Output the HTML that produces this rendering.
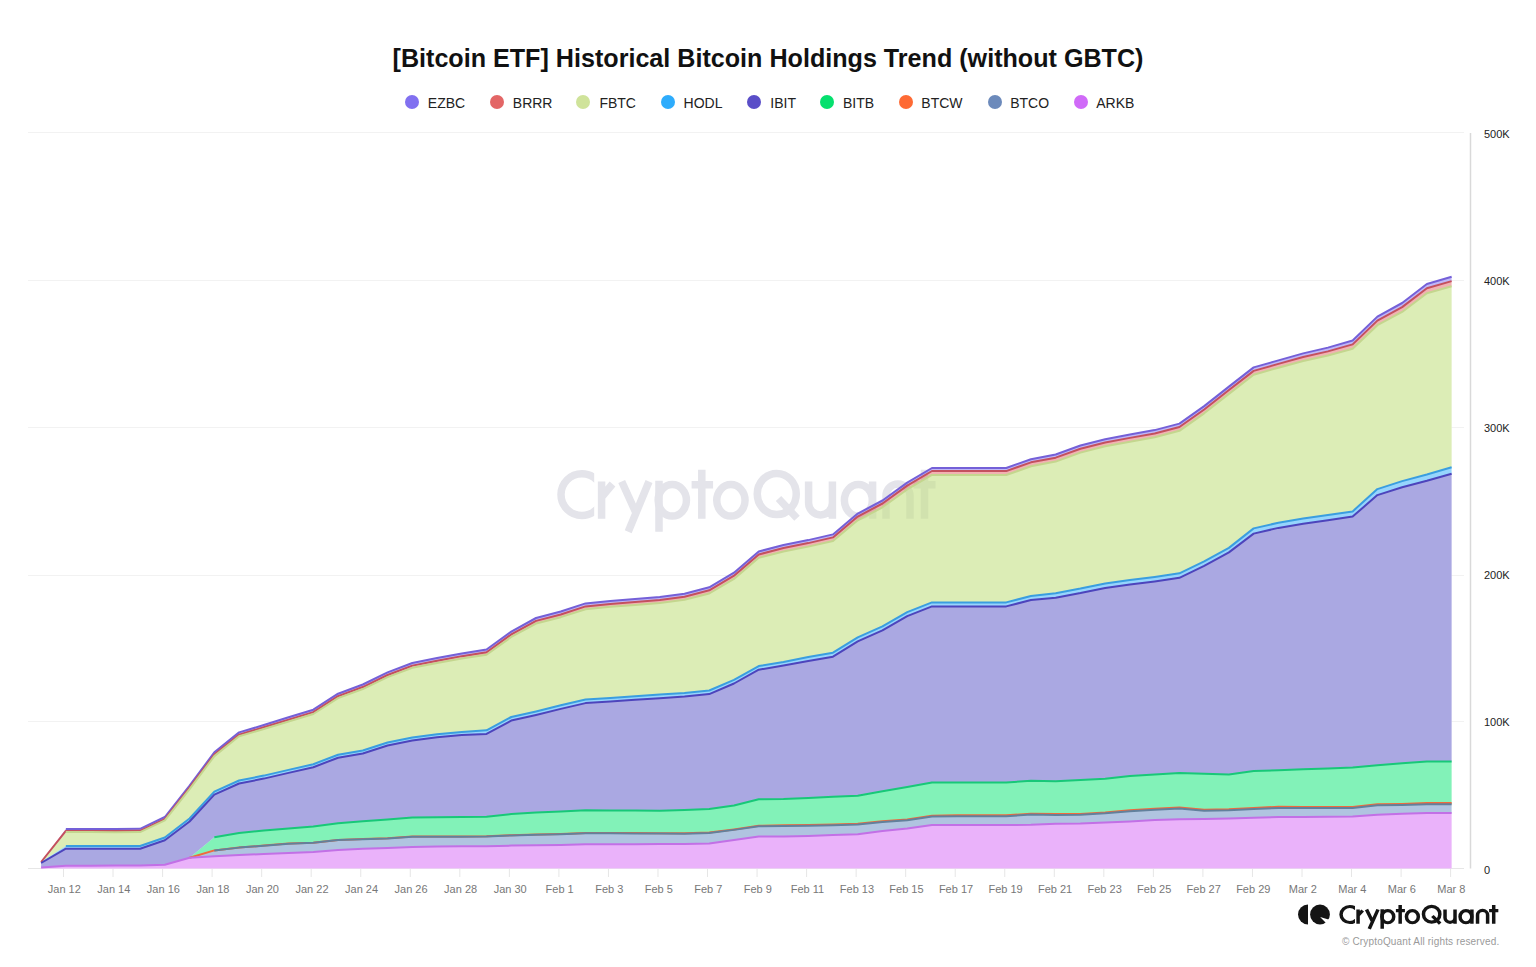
<!DOCTYPE html>
<html><head><meta charset="utf-8">
<style>
html,body{margin:0;padding:0;background:#fff;}
body{width:1536px;height:967px;position:relative;overflow:hidden;font-family:"Liberation Sans",sans-serif;}
.title{position:absolute;left:0;width:1536px;top:40.5px;text-align:center;font-weight:bold;font-size:25.13px;color:#111;line-height:34px;}
.ld{position:absolute;top:95px;width:14px;height:14px;border-radius:50%;}
.lt{position:absolute;top:95px;font-size:14px;line-height:16px;color:#222;}
svg{position:absolute;left:0;top:0;}
.yl{position:absolute;left:1484px;font-size:11px;line-height:14px;color:#222;}
.xl{position:absolute;top:882px;width:60px;text-align:center;font-size:11px;line-height:14px;color:#777;}
.copy{position:absolute;left:1342px;top:934.8px;font-size:10px;line-height:13px;color:#9a9a9a;letter-spacing:0.16px;}
</style></head><body>
<div class="title">[Bitcoin ETF] Historical Bitcoin Holdings Trend (without GBTC)</div>
<div class="ld" style="left:405px;background:#8170f0"></div><div class="lt" style="left:427.8px">EZBC</div>
<div class="ld" style="left:490px;background:#e36666"></div><div class="lt" style="left:512.8px">BRRR</div>
<div class="ld" style="left:576px;background:#cfe39a"></div><div class="lt" style="left:599.4px">FBTC</div>
<div class="ld" style="left:661px;background:#2eacfc"></div><div class="lt" style="left:683.6px">HODL</div>
<div class="ld" style="left:747px;background:#5a4ec8"></div><div class="lt" style="left:770.3px">IBIT</div>
<div class="ld" style="left:820.4px;background:#05e06e"></div><div class="lt" style="left:843px">BITB</div>
<div class="ld" style="left:898.7px;background:#fe6a34"></div><div class="lt" style="left:921.3px">BTCW</div>
<div class="ld" style="left:987.5px;background:#6c8abb"></div><div class="lt" style="left:1010.2px">BTCO</div>
<div class="ld" style="left:1073.8px;background:#d06af8"></div><div class="lt" style="left:1096.2px">ARKB</div>
<svg width="1536" height="967" viewBox="0 0 1536 967">
<line x1="28" x2="1464" y1="868.5" y2="868.5" stroke="#e6e6e6" stroke-width="1"/>
<line x1="28" x2="1464" y1="721.5" y2="721.5" stroke="#f2f2f2" stroke-width="1"/>
<line x1="28" x2="1464" y1="575.5" y2="575.5" stroke="#f2f2f2" stroke-width="1"/>
<line x1="28" x2="1464" y1="427.5" y2="427.5" stroke="#f2f2f2" stroke-width="1"/>
<line x1="28" x2="1464" y1="280.5" y2="280.5" stroke="#f2f2f2" stroke-width="1"/>
<line x1="28" x2="1464" y1="132.5" y2="132.5" stroke="#f2f2f2" stroke-width="1"/>
<line x1="1470.5" x2="1470.5" y1="133" y2="868.5" stroke="#d9d9d9" stroke-width="1.5"/>
<line x1="63.5" x2="63.5" y1="869" y2="877" stroke="#e6e6e6" stroke-width="1"/>
<line x1="113.04" x2="113.04" y1="869" y2="877" stroke="#e6e6e6" stroke-width="1"/>
<line x1="162.58" x2="162.58" y1="869" y2="877" stroke="#e6e6e6" stroke-width="1"/>
<line x1="212.12" x2="212.12" y1="869" y2="877" stroke="#e6e6e6" stroke-width="1"/>
<line x1="261.66" x2="261.66" y1="869" y2="877" stroke="#e6e6e6" stroke-width="1"/>
<line x1="311.2" x2="311.2" y1="869" y2="877" stroke="#e6e6e6" stroke-width="1"/>
<line x1="360.74" x2="360.74" y1="869" y2="877" stroke="#e6e6e6" stroke-width="1"/>
<line x1="410.28" x2="410.28" y1="869" y2="877" stroke="#e6e6e6" stroke-width="1"/>
<line x1="459.82" x2="459.82" y1="869" y2="877" stroke="#e6e6e6" stroke-width="1"/>
<line x1="509.36" x2="509.36" y1="869" y2="877" stroke="#e6e6e6" stroke-width="1"/>
<line x1="558.9" x2="558.9" y1="869" y2="877" stroke="#e6e6e6" stroke-width="1"/>
<line x1="608.44" x2="608.44" y1="869" y2="877" stroke="#e6e6e6" stroke-width="1"/>
<line x1="657.98" x2="657.98" y1="869" y2="877" stroke="#e6e6e6" stroke-width="1"/>
<line x1="707.52" x2="707.52" y1="869" y2="877" stroke="#e6e6e6" stroke-width="1"/>
<line x1="757.06" x2="757.06" y1="869" y2="877" stroke="#e6e6e6" stroke-width="1"/>
<line x1="806.6" x2="806.6" y1="869" y2="877" stroke="#e6e6e6" stroke-width="1"/>
<line x1="856.14" x2="856.14" y1="869" y2="877" stroke="#e6e6e6" stroke-width="1"/>
<line x1="905.68" x2="905.68" y1="869" y2="877" stroke="#e6e6e6" stroke-width="1"/>
<line x1="955.22" x2="955.22" y1="869" y2="877" stroke="#e6e6e6" stroke-width="1"/>
<line x1="1004.76" x2="1004.76" y1="869" y2="877" stroke="#e6e6e6" stroke-width="1"/>
<line x1="1054.3" x2="1054.3" y1="869" y2="877" stroke="#e6e6e6" stroke-width="1"/>
<line x1="1103.84" x2="1103.84" y1="869" y2="877" stroke="#e6e6e6" stroke-width="1"/>
<line x1="1153.38" x2="1153.38" y1="869" y2="877" stroke="#e6e6e6" stroke-width="1"/>
<line x1="1202.92" x2="1202.92" y1="869" y2="877" stroke="#e6e6e6" stroke-width="1"/>
<line x1="1252.46" x2="1252.46" y1="869" y2="877" stroke="#e6e6e6" stroke-width="1"/>
<line x1="1302" x2="1302" y1="869" y2="877" stroke="#e6e6e6" stroke-width="1"/>
<line x1="1351.54" x2="1351.54" y1="869" y2="877" stroke="#e6e6e6" stroke-width="1"/>
<line x1="1401.08" x2="1401.08" y1="869" y2="877" stroke="#e6e6e6" stroke-width="1"/>
<line x1="1450.62" x2="1450.62" y1="869" y2="877" stroke="#e6e6e6" stroke-width="1"/>
<polygon fill="#fff" points="41.1,861 65.85,828 90.59,828 115.34,828 140.08,827.8 164.83,816 189.58,784.5 214.32,751.4 239.07,731.4 263.81,724 288.56,716.3 313.31,708.7 338.05,692.7 362.8,683.5 387.54,671.4 412.29,662 437.04,657 461.78,652.4 486.53,648.5 511.27,630.6 536.02,617 560.77,610.5 585.51,602.4 610.26,599.9 635,598 659.75,596 684.5,592.7 709.24,586.3 733.99,571.7 758.73,550.5 783.48,544 808.23,539.1 832.97,533.4 857.72,512.6 882.46,499.5 907.21,481.6 931.96,467 956.7,467 981.45,467 1006.19,467 1030.94,458.2 1055.69,453.5 1080.43,444.5 1105.18,438.2 1129.92,433.6 1154.67,429.1 1179.42,422.6 1204.16,405.1 1228.91,385.6 1253.65,366.4 1278.4,359.4 1303.15,352.4 1327.89,346.6 1352.64,339.5 1377.38,315.6 1402.13,302 1426.88,283 1451.62,275.7 1451.62,868.5 41.1,868.5"/>
<g stroke="#e4e4ea"><g id="cqword" fill="none" stroke-width="7.5">
<clipPath id="cclip"><rect x="540" y="440" width="54.2" height="100"/></clipPath>
<circle cx="581.9" cy="494.6" r="20.9" clip-path="url(#cclip)"/>
<path d="M601.6,481.5V518.8M602.5,496L612.5,484M621.7,481.5L636,513M649,481.5L628.2,531.8M659,480.8V531.8"/>
<ellipse cx="672.3" cy="500.3" rx="14.15" ry="15.8"/>
<path d="M701.8,469.8V518.8M691.6,484.7H713.1"/>
<ellipse cx="730.9" cy="500.3" rx="14.15" ry="15.8"/>
<ellipse cx="776.75" cy="494.0" rx="19.5" ry="20.6"/>
<path d="M778.5,498.5L797,518.3"/>
<path d="M808.6,481.5V503A11.9,11.9 0 0 0 832.4,503M832.4,481.5V518.8"/>
<ellipse cx="858.4" cy="500.3" rx="14" ry="15.8"/>
<path d="M872.6,481.5V518.8M886,518.8V496A12,12 0 0 1 910,496V518.8"/>
<path d="M924.5,469.8V518.8M913.5,484.7H935.5"/>
</g></g>
<polygon fill="rgba(129,112,240,0.5)" points="41.1,862 65.85,829 90.59,829 115.34,829 140.08,828.8 164.83,817 189.58,785.5 214.32,752.4 239.07,732.4 263.81,725 288.56,717.3 313.31,709.7 338.05,693.7 362.8,684.5 387.54,672.4 412.29,663 437.04,658 461.78,653.4 486.53,649.5 511.27,631.6 536.02,618 560.77,611.5 585.51,603.4 610.26,600.9 635,599 659.75,597 684.5,593.7 709.24,587.3 733.99,572.7 758.73,551.5 783.48,545 808.23,540.1 832.97,534.4 857.72,513.6 882.46,500.5 907.21,482.6 931.96,468 956.7,468 981.45,468 1006.19,468 1030.94,459.2 1055.69,454.5 1080.43,445.5 1105.18,439.2 1129.92,434.6 1154.67,430.1 1179.42,423.6 1204.16,406.1 1228.91,386.6 1253.65,367.4 1278.4,360.4 1303.15,353.4 1327.89,347.6 1352.64,340.5 1377.38,316.6 1402.13,303 1426.88,284 1451.62,276.7 1451.62,281.1 1426.88,288.27 1402.13,307.14 1377.38,320.61 1352.64,344.39 1327.89,351.36 1303.15,357.03 1278.4,363.9 1253.65,370.86 1228.91,390.02 1204.16,409.48 1179.42,426.95 1154.67,433.41 1129.92,437.87 1105.18,442.43 1080.43,448.69 1055.69,457.65 1030.94,462.32 1006.19,471.08 981.45,471.04 956.7,471 931.96,471 907.21,485.6 882.46,503.5 857.72,516.6 832.97,537.4 808.23,543.1 783.48,548 758.73,554.5 733.99,575.7 709.24,590.3 684.5,596.7 659.75,600 635,602 610.26,603.9 585.51,606.4 560.77,614.45 536.02,620.9 511.27,634.44 486.53,652.29 461.78,656.14 437.04,660.69 412.29,665.63 387.54,674.98 362.8,687.03 338.05,696.18 313.31,712.12 288.56,719.67 263.81,727.32 239.07,734.67 214.32,754.61 189.58,787.66 164.83,819.11 140.08,830.86 115.34,831 90.59,830.95 65.85,830.9 41.1,862"/>
<polygon fill="rgba(227,102,102,0.5)" points="41.1,862 65.85,830.9 90.59,830.95 115.34,831 140.08,830.86 164.83,819.11 189.58,787.66 214.32,754.61 239.07,734.67 263.81,727.32 288.56,719.67 313.31,712.12 338.05,696.18 362.8,687.03 387.54,674.98 412.29,665.63 437.04,660.69 461.78,656.14 486.53,652.29 511.27,634.44 536.02,620.9 560.77,614.45 585.51,606.4 610.26,603.9 635,602 659.75,600 684.5,596.7 709.24,590.3 733.99,575.7 758.73,554.5 783.48,548 808.23,543.1 832.97,537.4 857.72,516.6 882.46,503.5 907.21,485.6 931.96,471 956.7,471 981.45,471.04 1006.19,471.08 1030.94,462.32 1055.69,457.65 1080.43,448.69 1105.18,442.43 1129.92,437.87 1154.67,433.41 1179.42,426.95 1204.16,409.48 1228.91,390.02 1253.65,370.86 1278.4,363.9 1303.15,357.03 1327.89,351.36 1352.64,344.39 1377.38,320.61 1402.13,307.14 1426.88,288.27 1451.62,281.1 1451.62,286.3 1426.88,293.27 1402.13,311.94 1377.38,325.21 1352.64,348.79 1327.89,355.56 1303.15,361.03 1278.4,367.7 1253.65,374.68 1228.91,393.85 1204.16,413.33 1179.42,430.81 1154.67,437.28 1129.92,441.76 1105.18,446.34 1080.43,452.62 1055.69,461.59 1030.94,466.27 1006.19,475.05 981.45,475.02 956.7,475 931.96,474.92 907.21,489.44 882.46,507.26 857.72,520.28 832.97,541 808.23,546.62 783.48,551.44 758.73,557.86 733.99,578.98 709.24,593.5 684.5,599.82 659.75,603.04 635,604.96 610.26,606.78 585.51,609.2 560.77,617.16 536.02,623.52 511.27,636.99 486.53,654.75 461.78,658.51 437.04,662.97 412.29,667.83 387.54,677.1 362.8,689.06 338.05,698.12 313.31,713.98 288.56,721.44 263.81,729 239.07,736.27 214.32,756.13 189.58,789.09 164.83,820.45 140.08,832.11 115.34,832.18 90.59,832.04 65.85,831.9 41.1,862"/>
<polygon fill="rgba(197,225,133,0.6)" points="41.1,862 65.85,831.9 90.59,832.04 115.34,832.18 140.08,832.11 164.83,820.45 189.58,789.09 214.32,756.13 239.07,736.27 263.81,729 288.56,721.44 313.31,713.98 338.05,698.12 362.8,689.06 387.54,677.1 412.29,667.83 437.04,662.97 461.78,658.51 486.53,654.75 511.27,636.99 536.02,623.52 560.77,617.16 585.51,609.2 610.26,606.78 635,604.96 659.75,603.04 684.5,599.82 709.24,593.5 733.99,578.98 758.73,557.86 783.48,551.44 808.23,546.62 832.97,541 857.72,520.28 882.46,507.26 907.21,489.44 931.96,474.92 956.7,475 981.45,475.02 1006.19,475.05 1030.94,466.27 1055.69,461.59 1080.43,452.62 1105.18,446.34 1129.92,441.76 1154.67,437.28 1179.42,430.81 1204.16,413.33 1228.91,393.85 1253.65,374.68 1278.4,367.7 1303.15,361.03 1327.89,355.56 1352.64,348.79 1377.38,325.21 1402.13,311.94 1426.88,293.27 1451.62,286.3 1451.62,467.2 1426.88,474.47 1402.13,481.13 1377.38,489.1 1352.64,511.4 1327.89,515 1303.15,518.6 1278.4,522.7 1253.65,528.4 1228.91,547.9 1204.16,561.4 1179.42,573.3 1154.67,576.9 1129.92,580.1 1105.18,583.4 1080.43,588.6 1055.69,593.2 1030.94,596 1006.19,602.4 981.45,602.4 956.7,602.4 931.96,602.4 907.21,612.1 882.46,626.3 857.72,637.4 832.97,652.7 808.23,657 783.48,662 758.73,666.1 733.99,679.9 709.24,690.5 684.5,692.9 659.75,694.6 635,696.2 610.26,698 585.51,699.5 560.77,705.3 536.02,711.4 511.27,717 486.53,730.3 461.78,732 437.04,734.3 412.29,737.6 387.54,742.5 362.8,750.5 338.05,754.7 313.31,764.2 288.56,769.9 263.81,775.6 239.07,780.5 214.32,791.6 189.58,818.5 164.83,837.5 140.08,846 115.34,846 90.59,846 65.85,846 41.1,862"/>
<polygon fill="rgba(46,172,252,0.5)" points="41.1,862 65.85,846 90.59,846 115.34,846 140.08,846 164.83,837.5 189.58,818.5 214.32,791.6 239.07,780.5 263.81,775.6 288.56,769.9 313.31,764.2 338.05,754.7 362.8,750.5 387.54,742.5 412.29,737.6 437.04,734.3 461.78,732 486.53,730.3 511.27,717 536.02,711.4 560.77,705.3 585.51,699.5 610.26,698 635,696.2 659.75,694.6 684.5,692.9 709.24,690.5 733.99,679.9 758.73,666.1 783.48,662 808.23,657 832.97,652.7 857.72,637.4 882.46,626.3 907.21,612.1 931.96,602.4 956.7,602.4 981.45,602.4 1006.19,602.4 1030.94,596 1055.69,593.2 1080.43,588.6 1105.18,583.4 1129.92,580.1 1154.67,576.9 1179.42,573.3 1204.16,561.4 1228.91,547.9 1253.65,528.4 1278.4,522.7 1303.15,518.6 1327.89,515 1352.64,511.4 1377.38,489.1 1402.13,481.13 1426.88,474.47 1451.62,467.2 1451.62,473.7 1426.88,480.8 1402.13,487.3 1377.38,495.1 1352.64,516.6 1327.89,520.2 1303.15,523.8 1278.4,527.9 1253.65,533.6 1228.91,552.4 1204.16,565.9 1179.42,577.8 1154.67,581.4 1129.92,584.6 1105.18,587.9 1080.43,593.1 1055.69,597.7 1030.94,600 1006.19,606.4 981.45,606.4 956.7,606.4 931.96,606.4 907.21,616.1 882.46,630.3 857.72,641.4 832.97,656.7 808.23,661 783.48,665.6 758.73,669.7 733.99,683.5 709.24,694.1 684.5,696.5 659.75,698.2 635,699.8 610.26,701.6 585.51,703.1 560.77,708.9 536.02,715 511.27,720.6 486.53,733.9 461.78,735 437.04,737.3 412.29,740.6 387.54,745.5 362.8,753.5 338.05,757.7 313.31,767.2 288.56,772.9 263.81,778.6 239.07,783.5 214.32,794.6 189.58,821.5 164.83,840.2 140.08,848.7 115.34,848.7 90.59,848.7 65.85,848.7 41.1,863"/>
<polygon fill="rgba(113,110,207,0.6)" points="41.1,863 65.85,848.7 90.59,848.7 115.34,848.7 140.08,848.7 164.83,840.2 189.58,821.5 214.32,794.6 239.07,783.5 263.81,778.6 288.56,772.9 313.31,767.2 338.05,757.7 362.8,753.5 387.54,745.5 412.29,740.6 437.04,737.3 461.78,735 486.53,733.9 511.27,720.6 536.02,715 560.77,708.9 585.51,703.1 610.26,701.6 635,699.8 659.75,698.2 684.5,696.5 709.24,694.1 733.99,683.5 758.73,669.7 783.48,665.6 808.23,661 832.97,656.7 857.72,641.4 882.46,630.3 907.21,616.1 931.96,606.4 956.7,606.4 981.45,606.4 1006.19,606.4 1030.94,600 1055.69,597.7 1080.43,593.1 1105.18,587.9 1129.92,584.6 1154.67,581.4 1179.42,577.8 1204.16,565.9 1228.91,552.4 1253.65,533.6 1278.4,527.9 1303.15,523.8 1327.89,520.2 1352.64,516.6 1377.38,495.1 1402.13,487.3 1426.88,480.8 1451.62,473.7 1451.62,761.6 1426.88,761.6 1402.13,763.2 1377.38,765.3 1352.64,767.6 1327.89,768.4 1303.15,769.2 1278.4,770.2 1253.65,770.9 1228.91,774.5 1204.16,773.7 1179.42,772.9 1154.67,774.5 1129.92,776.1 1105.18,778.7 1080.43,779.9 1055.69,781.2 1030.94,780.8 1006.19,782.5 981.45,782.5 956.7,782.5 931.96,782.5 907.21,786.9 882.46,791.2 857.72,795.7 832.97,796.8 808.23,798 783.48,799 758.73,799.3 733.99,805.5 709.24,809 684.5,809.9 659.75,810.7 635,810.5 610.26,810.5 585.51,810.3 560.77,811.5 536.02,812.5 511.27,814.1 486.53,816.8 461.78,817 437.04,817.2 412.29,817.6 387.54,819.5 362.8,821.2 338.05,823.3 313.31,826.5 288.56,828.5 263.81,830.6 239.07,833 214.32,837.3 189.58,857.8 164.83,864.7 140.08,865.5 115.34,865.6 90.59,865.7 65.85,865.8 41.1,867.4"/>
<polygon fill="rgba(47,233,137,0.6)" points="41.1,867.4 65.85,865.8 90.59,865.7 115.34,865.6 140.08,865.5 164.83,864.7 189.58,857.8 214.32,837.3 239.07,833 263.81,830.6 288.56,828.5 313.31,826.5 338.05,823.3 362.8,821.2 387.54,819.5 412.29,817.6 437.04,817.2 461.78,817 486.53,816.8 511.27,814.1 536.02,812.5 560.77,811.5 585.51,810.3 610.26,810.5 635,810.5 659.75,810.7 684.5,809.9 709.24,809 733.99,805.5 758.73,799.3 783.48,799 808.23,798 832.97,796.8 857.72,795.7 882.46,791.2 907.21,786.9 931.96,782.5 956.7,782.5 981.45,782.5 1006.19,782.5 1030.94,780.8 1055.69,781.2 1080.43,779.9 1105.18,778.7 1129.92,776.1 1154.67,774.5 1179.42,772.9 1204.16,773.7 1228.91,774.5 1253.65,770.9 1278.4,770.2 1303.15,769.2 1327.89,768.4 1352.64,767.6 1377.38,765.3 1402.13,763.2 1426.88,761.6 1451.62,761.6 1451.62,803.1 1426.88,803.1 1402.13,803.9 1377.38,804.2 1352.64,806.9 1327.89,806.9 1303.15,806.9 1278.4,806.8 1253.65,808 1228.91,809.2 1204.16,809.7 1179.42,807.5 1154.67,808.7 1129.92,810.3 1105.18,812.4 1080.43,813.9 1055.69,814 1030.94,813.7 1006.19,815.3 981.45,815.3 956.7,815.3 931.96,815.7 907.21,819.4 882.46,821.2 857.72,823.7 832.97,824.5 808.23,825 783.48,825.3 758.73,825.8 733.99,829.4 709.24,832.6 684.5,833.3 659.75,833.3 635,833.1 610.26,833.1 585.51,833.1 560.77,833.9 536.02,834.6 511.27,835.2 486.53,836.2 461.78,836.5 437.04,836.5 412.29,836.6 387.54,838.3 362.8,839.1 338.05,839.9 313.31,842.7 288.56,843.6 263.81,845.6 239.07,847.6 214.32,850.4 189.58,857.8 164.83,864.7 140.08,865.5 115.34,865.6 90.59,865.7 65.85,865.8 41.1,867.4"/>
<polygon fill="rgba(254,106,52,0.5)" points="41.1,867.4 65.85,865.8 90.59,865.7 115.34,865.6 140.08,865.5 164.83,864.7 189.58,857.8 214.32,850.4 239.07,847.6 263.81,845.6 288.56,843.6 313.31,842.7 338.05,839.9 362.8,839.1 387.54,838.3 412.29,836.6 437.04,836.5 461.78,836.5 486.53,836.2 511.27,835.2 536.02,834.6 560.77,833.9 585.51,833.1 610.26,833.1 635,833.1 659.75,833.3 684.5,833.3 709.24,832.6 733.99,829.4 758.73,825.8 783.48,825.3 808.23,825 832.97,824.5 857.72,823.7 882.46,821.2 907.21,819.4 931.96,815.7 956.7,815.3 981.45,815.3 1006.19,815.3 1030.94,813.7 1055.69,814 1080.43,813.9 1105.18,812.4 1129.92,810.3 1154.67,808.7 1179.42,807.5 1204.16,809.7 1228.91,809.2 1253.65,808 1278.4,806.8 1303.15,806.9 1327.89,806.9 1352.64,806.9 1377.38,804.2 1402.13,803.9 1426.88,803.1 1451.62,803.1 1451.62,804.3 1426.88,804.29 1402.13,805.07 1377.38,805.36 1352.64,808.04 1327.89,808.03 1303.15,808.01 1278.4,807.9 1253.65,809.08 1228.91,810.26 1204.16,810.74 1179.42,808.52 1154.67,809.71 1129.92,811.29 1105.18,813.37 1080.43,814.85 1055.69,814.93 1030.94,814.61 1006.19,816.19 981.45,816.17 956.7,816.16 931.96,816.54 907.21,820.22 882.46,822 857.72,824.44 832.97,825.19 808.23,825.63 783.48,825.88 758.73,826.32 733.99,829.87 709.24,833.01 684.5,833.66 659.75,833.6 635,833.38 610.26,833.37 585.51,833.35 560.77,834.13 536.02,834.82 511.27,835.4 486.53,836.38 461.78,836.67 437.04,836.65 412.29,836.73 387.54,838.42 362.8,839.2 338.05,839.98 313.31,842.77 288.56,843.65 263.81,845.63 239.07,847.62 214.32,850.4 189.58,857.8 164.83,864.7 140.08,865.5 115.34,865.6 90.59,865.7 65.85,865.8 41.1,867.4"/>
<polygon fill="rgba(123,157,203,0.6)" points="41.1,867.4 65.85,865.8 90.59,865.7 115.34,865.6 140.08,865.5 164.83,864.7 189.58,857.8 214.32,850.4 239.07,847.62 263.81,845.63 288.56,843.65 313.31,842.77 338.05,839.98 362.8,839.2 387.54,838.42 412.29,836.73 437.04,836.65 461.78,836.67 486.53,836.38 511.27,835.4 536.02,834.82 560.77,834.13 585.51,833.35 610.26,833.37 635,833.38 659.75,833.6 684.5,833.66 709.24,833.01 733.99,829.87 758.73,826.32 783.48,825.88 808.23,825.63 832.97,825.19 857.72,824.44 882.46,822 907.21,820.22 931.96,816.54 956.7,816.16 981.45,816.17 1006.19,816.19 1030.94,814.61 1055.69,814.93 1080.43,814.85 1105.18,813.37 1129.92,811.29 1154.67,809.71 1179.42,808.52 1204.16,810.74 1228.91,810.26 1253.65,809.08 1278.4,807.9 1303.15,808.01 1327.89,808.03 1352.64,808.04 1377.38,805.36 1402.13,805.07 1426.88,804.29 1451.62,804.3 1451.62,813 1426.88,813 1402.13,813.7 1377.38,814.8 1352.64,816.4 1327.89,816.7 1303.15,817.1 1278.4,817 1253.65,817.8 1228.91,818.5 1204.16,818.9 1179.42,819.3 1154.67,820.1 1129.92,821.4 1105.18,822.5 1080.43,823.5 1055.69,823.8 1030.94,824.8 1006.19,825.1 981.45,825.1 956.7,825.1 931.96,825.1 907.21,828.4 882.46,831 857.72,834.3 832.97,835.1 808.23,835.9 783.48,836.4 758.73,836.4 733.99,840 709.24,843.5 684.5,844 659.75,844.1 635,844.2 610.26,844.2 585.51,844.2 560.77,845 536.02,845.3 511.27,845.6 486.53,846.3 461.78,846.3 437.04,846.6 412.29,846.9 387.54,848 362.8,848.8 338.05,850.1 313.31,852.1 288.56,852.9 263.81,854 239.07,855 214.32,856.2 189.58,857.8 164.83,864.7 140.08,865.5 115.34,865.6 90.59,865.7 65.85,865.8 41.1,867.4"/>
<polygon fill="rgba(220,127,247,0.6)" points="41.1,867.4 65.85,865.8 90.59,865.7 115.34,865.6 140.08,865.5 164.83,864.7 189.58,857.8 214.32,856.2 239.07,855 263.81,854 288.56,852.9 313.31,852.1 338.05,850.1 362.8,848.8 387.54,848 412.29,846.9 437.04,846.6 461.78,846.3 486.53,846.3 511.27,845.6 536.02,845.3 560.77,845 585.51,844.2 610.26,844.2 635,844.2 659.75,844.1 684.5,844 709.24,843.5 733.99,840 758.73,836.4 783.48,836.4 808.23,835.9 832.97,835.1 857.72,834.3 882.46,831 907.21,828.4 931.96,825.1 956.7,825.1 981.45,825.1 1006.19,825.1 1030.94,824.8 1055.69,823.8 1080.43,823.5 1105.18,822.5 1129.92,821.4 1154.67,820.1 1179.42,819.3 1204.16,818.9 1228.91,818.5 1253.65,817.8 1278.4,817 1303.15,817.1 1327.89,816.7 1352.64,816.4 1377.38,814.8 1402.13,813.7 1426.88,813 1451.62,813 1451.62,868.5 1426.88,868.5 1402.13,868.5 1377.38,868.5 1352.64,868.5 1327.89,868.5 1303.15,868.5 1278.4,868.5 1253.65,868.5 1228.91,868.5 1204.16,868.5 1179.42,868.5 1154.67,868.5 1129.92,868.5 1105.18,868.5 1080.43,868.5 1055.69,868.5 1030.94,868.5 1006.19,868.5 981.45,868.5 956.7,868.5 931.96,868.5 907.21,868.5 882.46,868.5 857.72,868.5 832.97,868.5 808.23,868.5 783.48,868.5 758.73,868.5 733.99,868.5 709.24,868.5 684.5,868.5 659.75,868.5 635,868.5 610.26,868.5 585.51,868.5 560.77,868.5 536.02,868.5 511.27,868.5 486.53,868.5 461.78,868.5 437.04,868.5 412.29,868.5 387.54,868.5 362.8,868.5 338.05,868.5 313.31,868.5 288.56,868.5 263.81,868.5 239.07,868.5 214.32,868.5 189.58,868.5 164.83,868.5 140.08,868.5 115.34,868.5 90.59,868.5 65.85,868.5 41.1,868.5"/>
<polyline fill="none" stroke="#7460d8" stroke-width="2" stroke-linejoin="round" stroke-linecap="butt" points="65.85,829 90.59,829 115.34,829 140.08,828.8 164.83,817 189.58,785.5 214.32,752.4 239.07,732.4 263.81,725 288.56,717.3 313.31,709.7 338.05,693.7 362.8,684.5 387.54,672.4 412.29,663 437.04,658 461.78,653.4 486.53,649.5 511.27,631.6 536.02,618 560.77,611.5 585.51,603.4 610.26,600.9 635,599 659.75,597 684.5,593.7 709.24,587.3 733.99,572.7 758.73,551.5 783.48,545 808.23,540.1 832.97,534.4 857.72,513.6 882.46,500.5 907.21,482.6 931.96,468 956.7,468 981.45,468 1006.19,468 1030.94,459.2 1055.69,454.5 1080.43,445.5 1105.18,439.2 1129.92,434.6 1154.67,430.1 1179.42,423.6 1204.16,406.1 1228.91,386.6 1253.65,367.4 1278.4,360.4 1303.15,353.4 1327.89,347.6 1352.64,340.5 1377.38,316.6 1402.13,303 1426.88,284 1451.62,276.7"/>
<polyline fill="none" stroke="#c4505e" stroke-width="2" stroke-linejoin="round" stroke-linecap="butt" points="41.1,862 65.85,830.9 90.59,830.95 115.34,831 140.08,830.86 164.83,819.11 189.58,787.66 214.32,754.61 239.07,734.67 263.81,727.32 288.56,719.67 313.31,712.12 338.05,696.18 362.8,687.03 387.54,674.98 412.29,665.63 437.04,660.69 461.78,656.14 486.53,652.29 511.27,634.44 536.02,620.9 560.77,614.45 585.51,606.4 610.26,603.9 635,602 659.75,600 684.5,596.7 709.24,590.3 733.99,575.7 758.73,554.5 783.48,548 808.23,543.1 832.97,537.4 857.72,516.6 882.46,503.5 907.21,485.6 931.96,471 956.7,471 981.45,471.04 1006.19,471.08 1030.94,462.32 1055.69,457.65 1080.43,448.69 1105.18,442.43 1129.92,437.87 1154.67,433.41 1179.42,426.95 1204.16,409.48 1228.91,390.02 1253.65,370.86 1278.4,363.9 1303.15,357.03 1327.89,351.36 1352.64,344.39 1377.38,320.61 1402.13,307.14 1426.88,288.27 1451.62,281.1"/>
<polyline fill="none" stroke="#c4d68e" stroke-width="2" stroke-linejoin="round" stroke-linecap="butt" points="65.85,831.9 90.59,832.04 115.34,832.18 140.08,832.11 164.83,820.45 189.58,789.09 214.32,756.13 239.07,736.27 263.81,729 288.56,721.44 313.31,713.98 338.05,698.12 362.8,689.06 387.54,677.1 412.29,667.83 437.04,662.97 461.78,658.51 486.53,654.75 511.27,636.99 536.02,623.52 560.77,617.16 585.51,609.2 610.26,606.78 635,604.96 659.75,603.04 684.5,599.82 709.24,593.5 733.99,578.98 758.73,557.86 783.48,551.44 808.23,546.62 832.97,541 857.72,520.28 882.46,507.26 907.21,489.44 931.96,474.92 956.7,475 981.45,475.02 1006.19,475.05 1030.94,466.27 1055.69,461.59 1080.43,452.62 1105.18,446.34 1129.92,441.76 1154.67,437.28 1179.42,430.81 1204.16,413.33 1228.91,393.85 1253.65,374.68 1278.4,367.7 1303.15,361.03 1327.89,355.56 1352.64,348.79 1377.38,325.21 1402.13,311.94 1426.88,293.27 1451.62,286.3"/>
<polyline fill="none" stroke="#3a9ee0" stroke-width="2" stroke-linejoin="round" stroke-linecap="butt" points="65.85,846 90.59,846 115.34,846 140.08,846 164.83,837.5 189.58,818.5 214.32,791.6 239.07,780.5 263.81,775.6 288.56,769.9 313.31,764.2 338.05,754.7 362.8,750.5 387.54,742.5 412.29,737.6 437.04,734.3 461.78,732 486.53,730.3 511.27,717 536.02,711.4 560.77,705.3 585.51,699.5 610.26,698 635,696.2 659.75,694.6 684.5,692.9 709.24,690.5 733.99,679.9 758.73,666.1 783.48,662 808.23,657 832.97,652.7 857.72,637.4 882.46,626.3 907.21,612.1 931.96,602.4 956.7,602.4 981.45,602.4 1006.19,602.4 1030.94,596 1055.69,593.2 1080.43,588.6 1105.18,583.4 1129.92,580.1 1154.67,576.9 1179.42,573.3 1204.16,561.4 1228.91,547.9 1253.65,528.4 1278.4,522.7 1303.15,518.6 1327.89,515 1352.64,511.4 1377.38,489.1 1402.13,481.13 1426.88,474.47 1451.62,467.2"/>
<polyline fill="none" stroke="#4d44bc" stroke-width="2" stroke-linejoin="round" stroke-linecap="butt" points="41.1,863 65.85,848.7 90.59,848.7 115.34,848.7 140.08,848.7 164.83,840.2 189.58,821.5 214.32,794.6 239.07,783.5 263.81,778.6 288.56,772.9 313.31,767.2 338.05,757.7 362.8,753.5 387.54,745.5 412.29,740.6 437.04,737.3 461.78,735 486.53,733.9 511.27,720.6 536.02,715 560.77,708.9 585.51,703.1 610.26,701.6 635,699.8 659.75,698.2 684.5,696.5 709.24,694.1 733.99,683.5 758.73,669.7 783.48,665.6 808.23,661 832.97,656.7 857.72,641.4 882.46,630.3 907.21,616.1 931.96,606.4 956.7,606.4 981.45,606.4 1006.19,606.4 1030.94,600 1055.69,597.7 1080.43,593.1 1105.18,587.9 1129.92,584.6 1154.67,581.4 1179.42,577.8 1204.16,565.9 1228.91,552.4 1253.65,533.6 1278.4,527.9 1303.15,523.8 1327.89,520.2 1352.64,516.6 1377.38,495.1 1402.13,487.3 1426.88,480.8 1451.62,473.7"/>
<polyline fill="none" stroke="#18c878" stroke-width="2" stroke-linejoin="round" stroke-linecap="butt" points="214.32,837.3 239.07,833 263.81,830.6 288.56,828.5 313.31,826.5 338.05,823.3 362.8,821.2 387.54,819.5 412.29,817.6 437.04,817.2 461.78,817 486.53,816.8 511.27,814.1 536.02,812.5 560.77,811.5 585.51,810.3 610.26,810.5 635,810.5 659.75,810.7 684.5,809.9 709.24,809 733.99,805.5 758.73,799.3 783.48,799 808.23,798 832.97,796.8 857.72,795.7 882.46,791.2 907.21,786.9 931.96,782.5 956.7,782.5 981.45,782.5 1006.19,782.5 1030.94,780.8 1055.69,781.2 1080.43,779.9 1105.18,778.7 1129.92,776.1 1154.67,774.5 1179.42,772.9 1204.16,773.7 1228.91,774.5 1253.65,770.9 1278.4,770.2 1303.15,769.2 1327.89,768.4 1352.64,767.6 1377.38,765.3 1402.13,763.2 1426.88,761.6 1451.62,761.6"/>
<polyline fill="none" stroke="#f06a3c" stroke-width="2" stroke-linejoin="round" stroke-linecap="butt" points="189.58,857.8 214.32,850.4 239.07,847.6 263.81,845.6 288.56,843.6 313.31,842.7 338.05,839.9 362.8,839.1 387.54,838.3 412.29,836.6 437.04,836.5 461.78,836.5 486.53,836.2 511.27,835.2 536.02,834.6 560.77,833.9 585.51,833.1 610.26,833.1 635,833.1 659.75,833.3 684.5,833.3 709.24,832.6 733.99,829.4 758.73,825.8 783.48,825.3 808.23,825 832.97,824.5 857.72,823.7 882.46,821.2 907.21,819.4 931.96,815.7 956.7,815.3 981.45,815.3 1006.19,815.3 1030.94,813.7 1055.69,814 1080.43,813.9 1105.18,812.4 1129.92,810.3 1154.67,808.7 1179.42,807.5 1204.16,809.7 1228.91,809.2 1253.65,808 1278.4,806.8 1303.15,806.9 1327.89,806.9 1352.64,806.9 1377.38,804.2 1402.13,803.9 1426.88,803.1 1451.62,803.1"/>
<polyline fill="none" stroke="#62809c" stroke-width="2" stroke-linejoin="round" stroke-linecap="butt" points="214.32,850.4 239.07,847.62 263.81,845.63 288.56,843.65 313.31,842.77 338.05,839.98 362.8,839.2 387.54,838.42 412.29,836.73 437.04,836.65 461.78,836.67 486.53,836.38 511.27,835.4 536.02,834.82 560.77,834.13 585.51,833.35 610.26,833.37 635,833.38 659.75,833.6 684.5,833.66 709.24,833.01 733.99,829.87 758.73,826.32 783.48,825.88 808.23,825.63 832.97,825.19 857.72,824.44 882.46,822 907.21,820.22 931.96,816.54 956.7,816.16 981.45,816.17 1006.19,816.19 1030.94,814.61 1055.69,814.93 1080.43,814.85 1105.18,813.37 1129.92,811.29 1154.67,809.71 1179.42,808.52 1204.16,810.74 1228.91,810.26 1253.65,809.08 1278.4,807.9 1303.15,808.01 1327.89,808.03 1352.64,808.04 1377.38,805.36 1402.13,805.07 1426.88,804.29 1451.62,804.3"/>
<polyline fill="none" stroke="#c270e6" stroke-width="2" stroke-linejoin="round" stroke-linecap="butt" points="41.1,867.4 65.85,865.8 90.59,865.7 115.34,865.6 140.08,865.5 164.83,864.7 189.58,857.8 214.32,856.2 239.07,855 263.81,854 288.56,852.9 313.31,852.1 338.05,850.1 362.8,848.8 387.54,848 412.29,846.9 437.04,846.6 461.78,846.3 486.53,846.3 511.27,845.6 536.02,845.3 560.77,845 585.51,844.2 610.26,844.2 635,844.2 659.75,844.1 684.5,844 709.24,843.5 733.99,840 758.73,836.4 783.48,836.4 808.23,835.9 832.97,835.1 857.72,834.3 882.46,831 907.21,828.4 931.96,825.1 956.7,825.1 981.45,825.1 1006.19,825.1 1030.94,824.8 1055.69,823.8 1080.43,823.5 1105.18,822.5 1129.92,821.4 1154.67,820.1 1179.42,819.3 1204.16,818.9 1228.91,818.5 1253.65,817.8 1278.4,817 1303.15,817.1 1327.89,816.7 1352.64,816.4 1377.38,814.8 1402.13,813.7 1426.88,813 1451.62,813"/>
</svg>

<div class="yl" style="top:862.5px">0</div>
<div class="yl" style="top:715.35px">100K</div>
<div class="yl" style="top:568.2px">200K</div>
<div class="yl" style="top:421.05px">300K</div>
<div class="yl" style="top:273.9px">400K</div>
<div class="yl" style="top:126.75px">500K</div>
<div class="xl" style="left:34.3px">Jan 12</div>
<div class="xl" style="left:83.84px">Jan 14</div>
<div class="xl" style="left:133.38px">Jan 16</div>
<div class="xl" style="left:182.92px">Jan 18</div>
<div class="xl" style="left:232.46px">Jan 20</div>
<div class="xl" style="left:282px">Jan 22</div>
<div class="xl" style="left:331.54px">Jan 24</div>
<div class="xl" style="left:381.08px">Jan 26</div>
<div class="xl" style="left:430.62px">Jan 28</div>
<div class="xl" style="left:480.16px">Jan 30</div>
<div class="xl" style="left:529.7px">Feb 1</div>
<div class="xl" style="left:579.24px">Feb 3</div>
<div class="xl" style="left:628.78px">Feb 5</div>
<div class="xl" style="left:678.32px">Feb 7</div>
<div class="xl" style="left:727.86px">Feb 9</div>
<div class="xl" style="left:777.4px">Feb 11</div>
<div class="xl" style="left:826.94px">Feb 13</div>
<div class="xl" style="left:876.48px">Feb 15</div>
<div class="xl" style="left:926.02px">Feb 17</div>
<div class="xl" style="left:975.56px">Feb 19</div>
<div class="xl" style="left:1025.1px">Feb 21</div>
<div class="xl" style="left:1074.64px">Feb 23</div>
<div class="xl" style="left:1124.18px">Feb 25</div>
<div class="xl" style="left:1173.72px">Feb 27</div>
<div class="xl" style="left:1223.26px">Feb 29</div>
<div class="xl" style="left:1272.8px">Mar 2</div>
<div class="xl" style="left:1322.34px">Mar 4</div>
<div class="xl" style="left:1371.88px">Mar 6</div>
<div class="xl" style="left:1421.42px">Mar 8</div>
<svg width="40" height="26" viewBox="0 0 40 26" style="left:1295px;top:902px">
<path d="M13,2.5 A10,10 0 0 0 13,22.5 Z" fill="#141414"/>
<circle cx="25" cy="12.5" r="9.9" fill="#141414"/>
<polygon points="25.1,15.1 36,18.3 36,24 33,23" fill="#fff"/>
</svg>
<svg width="1536" height="967" viewBox="0 0 1536 967"><g stroke="#141414" transform="translate(1339.4,923.6) scale(0.42,0.3835) translate(-557.1,-518.3)"><g  fill="none" stroke-width="8.3">
<clipPath id="cclip2"><rect x="540" y="440" width="54.2" height="100"/></clipPath>
<circle cx="581.9" cy="494.6" r="20.9" clip-path="url(#cclip2)"/>
<path d="M601.6,481.5V518.8M602.5,496L612.5,484M621.7,481.5L636,513M649,481.5L628.2,531.8M659,480.8V531.8"/>
<ellipse cx="672.3" cy="500.3" rx="14.15" ry="15.8"/>
<path d="M701.8,469.8V518.8M691.6,484.7H713.1"/>
<ellipse cx="730.9" cy="500.3" rx="14.15" ry="15.8"/>
<ellipse cx="776.75" cy="494.0" rx="19.5" ry="20.6"/>
<path d="M778.5,498.5L797,518.3"/>
<path d="M808.6,481.5V503A11.9,11.9 0 0 0 832.4,503M832.4,481.5V518.8"/>
<ellipse cx="858.4" cy="500.3" rx="14" ry="15.8"/>
<path d="M872.6,481.5V518.8M886,518.8V496A12,12 0 0 1 910,496V518.8"/>
<path d="M924.5,469.8V518.8M913.5,484.7H935.5"/>
</g></g></svg>
<div class="copy">&copy; CryptoQuant All rights reserved.</div>
</body></html>
